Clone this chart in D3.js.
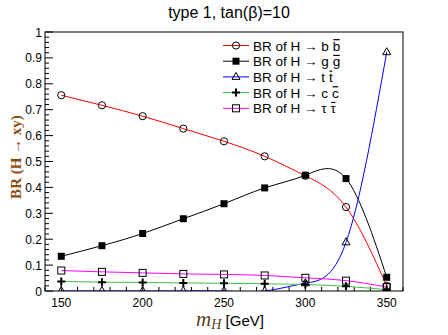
<!DOCTYPE html>
<html>
<head>
<meta charset="utf-8">
<script src="https://cdn.jsdelivr.net/npm/d3@7"></script>
<style>
  body { margin: 0; background: #fff; }
  svg { display: block; font-family: "Liberation Sans", Arial, Helvetica, sans-serif; }
</style>
</head>
<body>
<svg id="chart" width="448" height="335"></svg>
<script>
// masses (GeV) and branching ratios
const masses = [150, 175, 200, 225, 250, 275, 300, 325, 350];
const brBB  = [0.756, 0.717, 0.675, 0.627, 0.578, 0.520, 0.445, 0.324, 0.020];
const brGG  = [0.134, 0.175, 0.222, 0.279, 0.337, 0.398, 0.447, 0.434, 0.053];
const brTT  = [0.0, 0.0, 0.0, 0.0, 0.0, 0.0, 0.030, 0.188, 0.922];
const brCC  = [0.037, 0.034, 0.033, 0.031, 0.030, 0.028, 0.025, 0.018, 0.005];
const brTau = [0.079, 0.074, 0.070, 0.066, 0.064, 0.060, 0.051, 0.040, 0.015];

const seriesNames = ["b", "g", "t", "c", "τ"];
const seriesColors = ["#ff0000", "#000000", "#0000ff", "#3fbf3f", "#ff00ff"];
const xTicks = [150, 200, 250, 300, 350];

const svg = d3.select("#chart");
const frameL = 45, frameR = 403, frameT = 32, frameB = 291;

const x = d3.scaleLinear().domain([140, 360]).range([frameL, frameR]);
const y = d3.scaleLinear().domain([0, 1]).range([frameB, frameT]);

// title
svg.append("text")
    .attr("x", 229).attr("y", 18)
    .attr("text-anchor", "middle")
    .style("font-size", "16px")
    .text("type 1, tan(β)=10");

// clip for the curves
svg.append("clipPath").attr("id", "frame-clip")
  .append("rect")
    .attr("x", frameL).attr("y", frameT)
    .attr("width", frameR - frameL).attr("height", frameB - frameT);

// ticks (ROOT style, inside the frame)
const axes = svg.append("g");
d3.range(0, 1.0001, 0.02).forEach((v, i) => {
    const major = i % 5 === 0;
    axes.append("line")
        .attr("x1", frameL).attr("x2", frameL + (major ? 8 : 4))
        .attr("y1", y(v)).attr("y2", y(v))
        .attr("stroke", "#000");
});
d3.range(140, 361, 10).forEach(v => {
    const major = v % 50 === 0;
    axes.append("line")
        .attr("x1", x(v)).attr("x2", x(v))
        .attr("y1", frameB).attr("y2", frameB - (major ? 8 : 4))
        .attr("stroke", "#000");
});

// tick labels
d3.range(0, 11).forEach(i => {
    const v = i / 10;
    axes.append("text")
        .attr("x", frameL - 3).attr("y", y(v) + 4.5)
        .attr("text-anchor", "end")
        .style("font-size", "12px")
        .text(v === 0 ? "0" : v === 1 ? "1" : d3.format(".1f")(v));
});
xTicks.forEach(v => {
    axes.append("text")
        .attr("x", x(v)).attr("y", frameB + 16)
        .attr("text-anchor", "middle")
        .style("font-size", "12px")
        .text(v);
});

// axis titles
const xt = svg.append("text")
    .attr("x", 230).attr("y", 326)
    .attr("text-anchor", "middle");
xt.append("tspan")
    .style("font-family", "'Liberation Serif', 'DejaVu Serif', serif")
    .style("font-style", "italic").style("font-size", "21px")
    .attr("fill", "#5a3f1c")
    .text("m");
xt.append("tspan")
    .style("font-family", "'Liberation Serif', 'DejaVu Serif', serif")
    .style("font-style", "italic").style("font-size", "14px")
    .attr("fill", "#5a3f1c")
    .attr("dy", 3)
    .text("H");
xt.append("tspan")
    .style("font-size", "15px")
    .attr("dy", -3)
    .text(" [GeV]");

svg.append("text")
    .attr("transform", "translate(21,157) rotate(-90)")
    .attr("text-anchor", "middle")
    .style("font-family", "'Liberation Serif', 'DejaVu Serif', serif")
    .style("font-weight", "bold").style("font-size", "15px")
    .attr("fill", "#8a4d12")
    .text("BR (H → xy)");

// curves and markers
const series = [brBB, brGG, brTT, brCC, brTau].map((vals, i) => ({
    name: seriesNames[i],
    color: seriesColors[i],
    points: masses.map((m, j) => ({ m: m, br: vals[j] }))
}));

const line = d3.line()
    .x(d => x(d.m))
    .y(d => y(d.br))
    .curve(d3.curveNatural);

const plot = svg.append("g").attr("clip-path", "url(#frame-clip)");
series.forEach(s => {
    plot.append("path")
        .datum(s.points)
        .attr("d", line)
        .attr("fill", "none")
        .attr("stroke", s.color)
        .attr("stroke-width", 1);
});

function marker(sel, i) {
    if (i === 0) {
        sel.append("circle").attr("r", 3.6)
            .attr("fill", "none").attr("stroke", "#000");
    } else if (i === 1) {
        sel.append("rect").attr("x", -3.5).attr("y", -3.5)
            .attr("width", 7).attr("height", 7).attr("fill", "#000");
    } else if (i === 2) {
        sel.append("path").attr("d", "M0,-4.5L4,2.5L-4,2.5Z")
            .attr("fill", "none").attr("stroke", "#000");
    } else if (i === 3) {
        sel.append("path").attr("d", "M-4,0H4M0,-4V4")
            .attr("stroke", "#000").attr("stroke-width", 2);
    } else {
        sel.append("rect").attr("x", -3.5).attr("y", -3.5)
            .attr("width", 7).attr("height", 7)
            .attr("fill", "none").attr("stroke", "#000");
    }
}

series.forEach((s, i) => {
    plot.selectAll(null)
        .data(s.points)
        .enter().append("g")
        .attr("transform", d => `translate(${x(d.m)},${y(d.br)})`)
        .each(function() { marker(d3.select(this), i); });
});

// frame
svg.append("rect")
    .attr("x", frameL).attr("y", frameT)
    .attr("width", frameR - frameL).attr("height", frameB - frameT)
    .attr("fill", "none").attr("stroke", "#000");

// legend
const legend = svg.append("g").attr("transform", "translate(223,45.5)");
series.forEach((s, i) => {
    const row = legend.append("g").attr("transform", `translate(0,${i * 15.7})`);
    row.append("line")
        .attr("x1", 0).attr("x2", 26)
        .attr("stroke", s.color);
    marker(row.append("g").attr("transform", "translate(13,0)"), i);
    const t = row.append("text")
        .attr("x", 30).attr("y", 5)
        .style("font-size", "13.5px")
        .text(`BR of H → ${s.name}`);
    // anti-particle: same letter with a bar on top
    const barX = 30 + t.node().getComputedTextLength() + 4;
    const anti = row.append("text")
        .attr("x", barX).attr("y", 5)
        .style("font-size", "13.5px")
        .text(s.name);
    const w = anti.node().getComputedTextLength();
    row.append("line")
        .attr("x1", barX + 0.5).attr("x2", barX + w - 0.5)
        .attr("y1", -5.8).attr("y2", -5.8)
        .attr("stroke", "#000").attr("stroke-width", 1.2);
});
</script>
</body>
</html>
